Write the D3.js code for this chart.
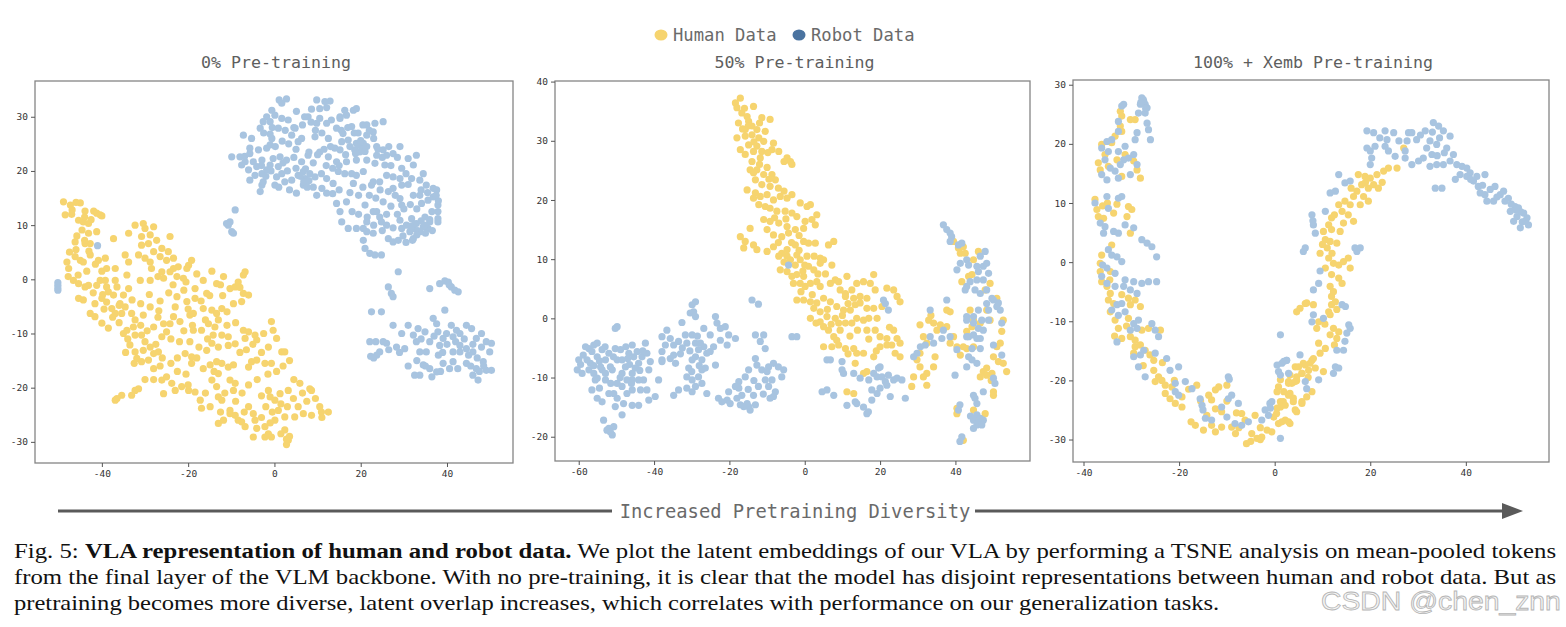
<!DOCTYPE html>
<meta charset="utf-8">
<title>TSNE of human vs robot data</title>
<style>
body { margin: 0; background: #fff; }
svg { display: block; }
.tick text { font-family: "DejaVu Sans Mono", monospace; font-size: 9.5px; fill: #333; }
.tick line { stroke: #555; }
</style>
<body>
<svg id="fig" width="1566" height="627"></svg>
<script src="https://cdn.jsdelivr.net/npm/d3@7"></script>
<script>

// ---- data (t-SNE coordinates) ----
var p1Human = [
  [-48.9,14.3],[-47.3,13.7],[-46.9,12.8],[-48.5,11.9],[-45.0,14.1],[-43.9,12.6],[-41.9,12.6],[-41.2,12.2],[-40.0,11.7],[-45.4,10.9],
  [-44.3,10.6],[-43.1,10.3],[-44.6,9.1],[-43.1,8.5],[-41.2,8.8],[-46.2,6.9],[-43.9,6.6],[-42.7,6.6],[-48.1,3.2],[-47.7,2.0],
  [-46.2,4.2],[-45.0,3.5],[-44.3,3.2],[-42.7,4.5],[-40.8,3.5],[-39.2,3.9],[-38.9,2.0],[-36.9,2.0],[-37.3,7.5],[-34.6,4.5],
  [-33.8,3.2],[-40.4,11.9],[-46.6,-0.2],[-45.4,-0.8],[-43.9,-1.4],[-43.1,-1.1],[-41.2,-1.1],[-40.4,-0.2],[-39.2,-0.2],[-38.9,-1.4],
  [-36.9,-0.2],[-36.5,-1.4],[-38.5,-2.3],[-37.3,-2.9],[-35.0,-2.9],[-33.8,-1.7],[-34.2,0.8],[-31.1,-0.2],[-28.8,-0.2],[-45.4,-3.5],
  [-44.3,-3.8],[-41.6,-4.5],[-38.9,-4.2],[-37.7,-5.4],[-35.8,-4.5],[-34.6,-5.1],[-42.7,-6.3],[-41.6,-6.9],[-40.0,-8.1],[-36.9,-6.3],
  [-35.4,-6.3],[-33.1,-6.3],[-32.3,-7.5],[-30.4,-6.6],[-28.8,-5.1],[-32.7,-8.8],[-34.2,-9.4],[-32.3,-10.3],[-30.8,-10.3],[-33.5,-12.1],
  [-32.3,-13.4],[-30.4,-13.1],[-31.9,-14.6],[-30.8,-15.2],[-29.2,-14.9],[-28.0,-13.7],[-28.0,-16.5],[-28.8,-12.5],[-26.9,-13.4],[-26.1,-10.6],
  [-28.0,-8.8],[-25.0,-9.7],[-32.3,10.0],[-30.4,10.3],[-30.0,9.4],[-28.0,9.7],[-30.8,7.9],[-28.8,8.2],[-27.3,7.2],[-30.8,6.3],
  [-29.2,6.6],[-28.0,5.1],[-26.1,5.7],[-26.5,4.2],[-30.0,3.9],[-28.8,3.2],[-24.2,7.9],[-24.6,5.1],[-23.4,3.9],[-23.4,2.0],
  [-24.2,1.4],[-26.1,1.4],[-25.7,0.2],[-22.3,2.3],[-22.6,0.5],[-21.1,0.2],[-19.2,3.5],[-19.9,2.6],[-20.3,2.0],[-18.4,-1.7],
  [-16.5,-0.2],[-15.7,-2.6],[-13.4,-0.8],[-11.8,0.5],[-10.3,-1.7],[-9.1,-1.4],[-8.4,-0.5],[-7.2,0.8],[-6.8,1.4],[-7.2,-2.6],
  [-6.0,-2.9],[-7.6,-4.1],[-20.3,-4.1],[-18.4,-3.5],[-22.6,-3.2],[-23.0,-5.1],[-23.4,-6.9],[-21.9,-7.8],[-24.2,-8.2],[-25.7,-8.2],
  [-19.6,-6.6],[-18.8,-6.3],[-16.5,-5.4],[-14.5,-5.7],[-13.4,-6.3],[-12.2,-5.4],[-13.0,-7.5],[-13.8,-8.8],[-15.3,-8.2],[-16.9,-9.4],
  [-18.8,-9.4],[-19.6,-11.5],[-20.7,-13.7],[-19.2,-14.3],[-19.2,-15.5],[-15.7,-13.1],[-14.5,-11.8],[-14.2,-10.3],[-12.2,-10.3],[-10.7,-10.6],
  [-10.7,-12.2],[-9.1,-11.9],[-7.2,-9.4],[-6.0,-9.7],[-4.5,-10.3],[-4.1,-11.2],[-6.8,-10.9],[-14.9,-15.8],[-13.4,-15.2],[-12.2,-15.5],
  [-10.7,-16.2],[-9.5,-15.8],[-13.0,-17.4],[-14.5,-18.6],[-13.4,-19.8],[-13.0,-21.7],[-12.2,-22.3],[-10.3,-18.6],[-9.1,-19.2],[-9.5,-20.5],
  [-6.0,-16.2],[-5.3,-15.2],[-4.1,-14.9],[-2.2,-15.5],[-0.7,-15.5],[-1.4,-12.5],[-0.7,-7.8],[-0.3,-9.4],[0.5,-10.9],[1.7,-13.4],
  [2.4,-13.4],[-26.1,-18.6],[-25.0,-18.0],[-23.8,-19.2],[-23.0,-20.5],[-21.5,-19.8],[-19.9,-20.5],[-18.4,-20.8],[-17.2,-22.3],[-16.9,-23.8],
  [-14.9,-23.5],[-25.7,-21.1],[-32.3,-20.5],[-31.5,-20.2],[-33.1,-21.4],[-35.4,-21.4],[-36.5,-22.0],[-36.9,-22.3],[-13.0,-26.6],[-11.8,-26.0],
  [-10.3,-24.8],[-9.1,-25.1],[-8.4,-26.0],[-7.6,-26.3],[-6.8,-27.2],[-10.3,-24.2],[-6.0,-23.5],[-4.9,-24.8],[-4.5,-26.0],[-4.1,-27.5],
  [-2.2,-27.2],[-1.4,-28.5],[-0.7,-29.1],[-2.2,-29.1],[-4.9,-29.1],[-1.4,-20.5],[-1.0,-21.7],[0.1,-22.3],[1.3,-21.1],[3.2,-20.5],
  [4.4,-22.0],[5.5,-23.5],[6.7,-24.8],[4.7,-25.4],[2.4,-25.4],[0.9,-24.2],[0.1,-26.0],[2.4,-27.8],[3.2,-29.7],[8.6,-25.1],
  [10.5,-23.5],[10.9,-24.5],[12.5,-24.5],[8.6,-20.5],[8.2,-20.2],[5.9,-19.2],
  [-47.0,12.0],[-46.0,14.2],[-44.0,11.5],[-42.5,11.0],[-45.8,8.0],[-44.0,7.2],[-47.5,5.0],[-46.0,5.5],[-43.0,5.2],[-41.5,2.8],
  [-40.0,1.5],[-43.5,1.5],[-45.5,0.8],[-47.8,0.5],[-42.0,-2.5],[-40.0,-3.5],[-39.5,-5.5],[-37.5,-7.0],[-38.5,-9.0],[-36.0,-8.0],
  [-35.0,-10.0],[-34.0,-11.0],[-31.0,-8.5],[-30.0,-11.5],[-29.5,-9.5],[-27.0,-7.0],[-26.5,-4.0],[-24.5,-2.5],[-23.5,-1.0],[-21.0,-2.0],
  [-20.0,-5.5],[-17.0,-4.0],[-16.0,-7.5],[-15.0,-3.0],[-12.0,-3.0],[-11.0,-6.0],[-9.5,-4.5],[-9.0,-8.0],[-11.0,-8.5],[-13.0,-12.5],
  [-15.5,-11.0],[-17.5,-12.5],[-18.0,-14.5],[-16.5,-16.5],[-22.0,-11.5],[-24.0,-11.0],[-26.5,-16.0],[-24.0,-15.5],[-22.5,-17.0],[-20.5,-17.5],
  [-28.0,-18.5],[-30.0,-18.5],[-8.0,-13.5],[-6.5,-13.0],[-5.0,-12.0],[-3.0,-13.5],[-2.5,-10.0],[-1.5,-17.5],[0.5,-17.0],[2.0,-16.0],
  [3.5,-15.0],[-4.0,-18.5],[-6.0,-19.5],[-7.5,-21.0],[-9.0,-22.5],[-11.5,-21.0],[-3.0,-21.5],[-2.0,-23.5],[-0.5,-24.5],[1.5,-23.0],
  [3.0,-23.5],[4.5,-18.5],[6.5,-21.0],[7.5,-22.5],[9.5,-22.0],[11.0,-25.5],[-1.0,-26.5],[1.5,-28.5],[2.8,-30.5],[3.5,-29.0],
  [-3.0,-25.5],[-7.0,-24.5],[-12.5,-24.5],[-16.0,-21.0],[-14.0,-17.0],[-34.5,-13.5],[-32.5,-15.5],[-33.8,8.5],[-31.5,4.5],[-28.5,2.0],
  [-27.0,0.5],[-25.0,3.5],[-20.5,-0.5],[-18.0,1.0],[-14.5,1.5],[-12.5,-1.0],[-8.0,-1.5],[-19.0,-8.5],[-21.0,-9.5],[-27.5,-12.0],
  [-26.0,-14.5],[-36.0,-4.8],[-39.8,-2.8],[-33.0,-3.8],[-31.0,-4.5],[-29.0,-2.8],[-26.8,-5.8],[-22.5,-14.5],[-20.0,-19.5],[2.8,-29.5]
];

var p1Robot = [
  [1.1,33.1],[2.8,33.3],[1.7,32.5],[9.8,33.1],[11.7,32.8],[12.9,32.9],[-0.6,31.2],[5.1,31.0],[8.6,31.4],[10.5,31.5],
  [12.1,31.7],[16.3,31.2],[18.3,31.2],[16.7,30.3],[15.2,30.0],[19.0,31.5],[-1.8,30.0],[0.1,30.3],[1.7,29.7],[3.2,29.4],
  [7.8,30.0],[10.5,29.7],[13.2,29.4],[15.2,29.7],[9.8,28.8],[12.1,28.8],[-2.6,29.1],[-1.0,29.1],[-3.3,27.9],[0.9,27.9],
  [4.8,27.9],[14.4,27.9],[17.9,28.2],[21.4,28.5],[23.3,28.8],[25.2,29.1],[19.4,27.0],[21.4,26.6],[22.9,27.2],[6.3,26.0],
  [-7.2,26.6],[-5.3,26.0],[-0.6,26.0],[4.0,26.6],[5.5,25.4],[9.4,26.3],[15.9,26.9],[17.1,25.7],[19.0,25.1],[20.6,25.1],
  [23.7,24.5],[21.4,24.5],[15.6,25.4],[-5.7,24.2],[-3.7,23.9],[-1.8,24.2],[-1.0,24.8],[14.0,24.2],[15.2,23.9],[18.6,23.9],
  [19.8,23.5],[26.0,22.9],[27.5,23.2],[29.1,24.5],[23.7,22.9],[25.2,23.9],[10.5,23.5],[-9.9,22.6],[-8.0,22.6],[-6.8,21.7],
  [-4.9,21.7],[-2.9,22.0],[-0.3,22.3],[1.3,22.6],[2.8,22.0],[6.3,21.7],[7.8,22.9],[12.5,22.6],[14.4,21.7],[16.7,21.7],
  [19.0,22.0],[21.4,22.0],[23.3,21.4],[25.6,21.1],[31.0,22.3],[32.2,21.1],[32.9,22.9],[-7.6,21.1],[-4.1,20.8],[-1.0,21.1],
  [0.9,20.8],[-6.0,20.2],[-4.5,19.2],[-2.9,19.5],[-1.8,20.2],[0.5,18.9],[1.7,19.5],[4.0,18.3],[5.5,19.2],[6.7,19.9],
  [7.1,18.6],[8.2,19.5],[9.4,18.9],[10.9,19.5],[12.1,18.6],[13.6,17.7],[14.8,19.9],[16.3,19.5],[17.9,19.5],[19.0,19.2],
  [20.6,19.9],[22.9,18.0],[24.4,18.0],[26.0,19.2],[27.5,18.9],[29.1,18.6],[29.5,17.4],[31.8,18.6],[33.7,18.3],[34.5,19.5],
  [35.2,17.4],[36.8,16.8],[37.6,16.5],[-5.7,18.3],[-2.9,17.4],[-2.6,18.0],[0.1,17.4],[2.4,18.0],[-3.3,16.2],[5.1,15.9],
  [6.7,17.4],[9.8,15.5],[12.1,15.9],[14.4,14.0],[15.2,12.5],[16.7,14.3],[18.3,17.7],[21.0,13.7],[22.5,17.4],[23.7,12.5],
  [25.2,14.3],[26.4,16.2],[27.5,16.8],[29.1,14.9],[29.5,13.7],[32.2,15.5],[33.7,15.5],[34.1,14.0],[35.6,14.6],[36.8,15.2],
  [37.9,13.7],[37.9,12.5],[15.6,10.6],[17.1,9.4],[19.0,9.4],[20.6,9.4],[21.4,10.6],[22.9,12.5],[24.4,11.5],[24.8,10.6],
  [26.4,7.5],[27.5,6.9],[28.7,7.2],[29.1,10.9],[30.6,10.0],[31.8,11.2],[32.2,9.4],[32.9,10.3],[33.7,8.8],[34.5,9.7],
  [35.6,9.4],[36.0,10.6],[37.9,11.2],[37.9,10.6],[34.9,11.5],[20.6,7.2],[21.0,5.7],[22.1,4.8],[23.3,4.5],[24.8,4.5],
  [21.4,8.8],[22.9,8.5],[32.2,7.5],[31.4,8.8],[29.5,9.4],[26.0,10.0],
  [19.5,24.8],[20.2,24.0],[18.8,23.2],[21.0,23.6],[20.0,25.6],[32.5,10.2],[33.2,9.0],[34.0,10.8],[31.6,9.8],[33.0,8.2],
  [35.0,8.5],[34.8,10.0],[32.0,7.2],[36.6,9.0],[6.0,19.0],[7.2,20.4],[6.8,18.0],[8.0,18.2],[5.0,20.5],[7.6,17.0],
  [-6.9,22.7],[-5.7,23.2],[-3.0,21.0],[-2.0,19.0],[-0.8,20.0],[1.0,17.0],[3.5,16.5],[3.0,20.0],[2.0,21.5],[4.5,22.5],
  [5.0,24.0],[3.3,25.0],[1.8,25.5],[0.2,24.5],[-1.0,26.8],[-2.5,27.0],[-0.5,28.0],[2.5,27.5],[4.5,28.0],[6.5,28.5],
  [7.0,30.0],[8.5,29.0],[9.5,27.5],[11.0,27.0],[12.5,26.0],[13.0,24.5],[11.5,24.0],[10.0,23.0],[9.0,21.5],[8.0,23.5],
  [12.0,21.0],[13.5,20.5],[15.0,21.0],[16.5,23.0],[17.5,24.5],[15.5,27.5],[17.0,28.0],[18.5,27.0],[20.5,28.5],[22.0,27.5],
  [23.0,26.0],[24.0,24.0],[26.5,24.5],[25.0,22.5],[27.0,21.0],[28.5,22.5],[29.5,20.5],[30.5,19.5],[31.0,17.5],[28.0,15.5],
  [27.0,13.5],[26.0,12.0],[28.5,12.0],[30.0,13.0],[31.5,13.8],[33.0,13.0],[34.0,16.5],[35.5,16.0],[36.5,12.5],[36.0,11.0],
  [38.0,14.5],[37.5,15.5],[19.5,15.5],[17.5,16.0],[15.0,16.5],[13.5,15.8],[11.0,16.8],[9.0,17.0],[20.5,17.0],[22.0,15.5],
  [23.5,15.0],[24.5,16.5],[18.0,12.5],[19.5,12.0],[21.5,11.5],[23.0,10.0],[25.0,9.0],[27.5,9.5],[29.8,8.0],[30.5,6.8],
  [-9.1,12.8],[-11.1,10.3],[-10.3,10.6],[-9.9,8.8],[-10.7,10.0],[-9.5,8.5],
  [-41.0,6.2],[-50.2,-0.6],[-50.2,-1.1],[-50.2,-1.6],[-50.2,-2.0],
  [28.7,1.4],[26.4,-1.4],[27.1,-2.6],[27.5,-3.2],[22.5,-6.0],[24.8,-6.0],[36.0,-1.7],[38.3,-0.8],[40.3,-0.5],[41.0,-1.4],
  [41.8,-2.0],[42.6,-2.3],[39.5,-0.3],[40.5,-1.0],[39.5,-5.7],[27.5,-8.5],[29.5,-10.0],[31.0,-8.5],[32.2,-10.3],[33.3,-9.1],
  [34.9,-9.7],[36.8,-7.2],[37.6,-8.2],[37.9,-9.7],[39.1,-10.9],[39.9,-10.0],[41.4,-10.6],[42.2,-9.4],[43.0,-12.2],[44.5,-8.5],
  [45.7,-9.1],[46.8,-10.9],[48.0,-10.0],[49.1,-11.5],[50.3,-11.8],[49.9,-13.4],[48.4,-15.2],[49.1,-16.8],[50.3,-16.8],[46.8,-16.5],
  [46.0,-17.7],[47.2,-18.6],[44.5,-15.5],[43.0,-13.4],[41.4,-15.2],[40.6,-16.5],[39.1,-15.5],[37.6,-17.1],[36.0,-16.5],[34.5,-15.8],
  [33.7,-17.7],[32.5,-17.7],[35.2,-13.4],[33.7,-13.4],[32.9,-11.5],[30.2,-12.8],[36.0,-11.5],[38.3,-12.2],[41.4,-13.4],[44.5,-12.8],
  [46.0,-13.4],[22.1,-11.5],[23.7,-14.0],[24.4,-13.4],[26.0,-11.8],[28.3,-12.5],[25.2,-11.5],[22.3,-14.2],[23.0,-14.5],
  [33.0,-15.0],[35.0,-16.0],[38.0,-14.0],[40.0,-12.0],[42.0,-11.5],[44.0,-11.0],[45.0,-14.0],[47.0,-14.5],[48.0,-12.5],[39.0,-13.5],
  [31.0,-16.0],[34.0,-11.0],[37.0,-10.5],[29.0,-13.5],[26.5,-13.0],[23.5,-11.5],[41.0,-8.5],[43.0,-10.0],[46.0,-12.0],[48.5,-16.0],
  [47.5,-17.0],[45.5,-16.0],[42.5,-16.5],[38.5,-17.0],[36.5,-18.0]
];

var p2Human = [
  [-17.1,37.2],[-18.4,36.4],[-18.0,35.6],[-13.6,35.8],[-16.7,34.7],[-15.3,34.1],[-17.6,33.0],[-14.9,33.3],[-11.4,33.9],[-9.2,33.6],
  [-14.0,32.5],[-15.8,31.9],[-12.7,31.9],[-10.5,31.6],[-18.0,30.5],[-15.8,30.8],[-14.0,31.0],[-12.2,30.5],[-10.9,29.9],[-8.3,29.6],
  [-14.9,29.3],[-12.7,29.1],[-17.1,28.5],[-15.8,27.7],[-13.6,28.2],[-11.4,28.2],[-8.7,28.5],[-6.9,28.2],[-4.7,27.1],[-3.8,26.5],
  [-3.4,26.0],[-14.0,26.5],[-11.8,27.1],[-14.5,25.1],[-12.7,25.1],[-13.6,24.6],[-10.9,24.3],[-8.7,24.3],[-7.8,23.4],[-13.1,23.4],
  [-11.4,22.6],[-9.2,22.3],[-15.3,21.7],[-13.1,21.2],[-13.6,20.3],[-11.8,20.6],[-10.0,20.9],[-8.3,20.0],[-6.5,20.6],[-4.7,20.3],
  [-3.4,20.9],[-1.2,19.5],[0.6,18.9],[1.5,19.2],[-12.2,19.2],[-10.5,18.9],[-9.2,18.6],[-7.4,18.1],[-5.2,18.1],[-3.4,17.8],
  [-2.1,17.2],[3.2,17.5],[1.9,16.7],[2.8,15.8],[-10.9,16.7],[-9.2,16.4],[-6.9,16.1],[-4.7,15.5],[-2.5,15.0],[-0.3,15.2],
  [0.1,16.4],[-10.0,15.0],[-8.3,14.1],[-6.1,13.8],[-4.3,14.4],[-14.5,15.2],[-17.1,13.8],[-15.8,13.0],[-16.2,11.9],[-13.6,12.4],
  [-12.7,11.6],[-10.0,11.3],[-8.3,12.1],[-6.1,11.0],[-4.7,11.6],[-2.5,12.4],[-0.3,13.0],[1.0,12.7],[2.8,12.7],[6.3,12.4],
  [7.7,13.0],[-6.9,10.5],[-4.7,10.5],[-3.8,9.9],[-2.1,10.7],[-1.2,9.9],[0.6,10.5],[4.1,10.2],[7.2,9.0],[-6.5,8.2],
  [-4.7,7.9],[-3.4,7.1],[-2.1,7.4],[-0.3,7.1],[1.0,8.8],[2.4,8.2],[4.1,9.3],[5.0,9.9],[-3.0,5.9],[-1.2,5.9],
  [0.1,5.4],[1.5,5.9],[3.2,6.2],[4.1,5.4],[6.8,5.9],[9.0,6.2],[11.2,7.1],[-2.1,3.1],[-0.3,3.1],[1.5,2.8],
  [3.2,2.6],[5.0,3.4],[6.8,2.8],[2.4,1.7],[4.1,1.1],[1.5,0.0],[4.1,-0.6],[5.9,0.3],[8.1,0.0],[9.0,-0.8],
  [8.1,6.5],[9.4,4.8],[10.8,4.2],[12.5,4.8],[13.8,5.9],[15.6,6.2],[17.4,5.9],[18.3,7.4],[18.7,4.8],[21.8,5.1],
  [23.6,4.8],[24.5,3.7],[25.3,2.8],[10.8,3.7],[13.0,3.4],[14.7,3.7],[16.5,3.4],[8.5,2.0],[10.3,1.4],[12.1,1.4],
  [13.4,2.3],[14.7,2.6],[16.5,1.7],[18.3,1.7],[19.2,0.0],[5.0,-1.4],[6.3,-2.0],[7.7,-3.1],[8.5,-3.7],[9.4,-2.0],
  [10.8,-0.8],[12.5,-0.8],[13.8,0.0],[15.6,-0.3],[16.5,-2.0],[18.7,-2.0],[20.0,-3.1],[21.8,-3.4],[23.6,-2.0],[24.5,-3.4],
  [25.3,-4.2],[5.0,-4.8],[7.2,-4.8],[9.0,-4.5],[10.8,-5.1],[13.0,-5.1],[13.8,-5.9],[15.6,-5.9],[18.3,-6.5],[20.0,-4.8],
  [21.8,-4.5],[23.1,-4.5],[24.0,-5.9],[25.3,-6.5],[13.4,-7.6],[16.5,-9.0],[15.6,-9.3],[11.2,-12.4],[13.0,-12.7],
  [-16.0,35.5],[-15.0,32.5],[-12.0,33.0],[-16.5,32.0],[-13.5,29.8],[-9.8,28.0],[-5.5,26.5],[-12.0,26.0],[-10.0,25.5],[-9.5,23.5],
  [-7.0,22.0],[-5.5,21.5],[-8.0,17.0],[-5.0,16.8],[-1.5,14.0],[-7.0,12.8],[-3.5,12.8],[-1.5,11.5],[0.0,9.0],[-5.5,9.5],
  [2.5,10.5],[3.5,7.5],[-1.0,4.5],[2.0,4.0],[5.5,7.5],[6.0,1.5],[3.0,-0.8],[7.0,-1.0],[10.0,0.5],[11.5,2.5],
  [14.0,-2.0],[12.0,-3.0],[17.0,-3.5],[19.0,-5.5],[11.5,-6.0],[22.5,-1.5],[20.5,2.0],[17.0,0.0],[-2.5,9.0],[-0.5,8.0],
  [39.5,13.0],[40.8,11.9],[42.1,12.1],[41.3,11.0],[42.6,11.0],[46.1,11.3],[44.8,9.9],[44.4,7.4],[41.7,6.2],[43.5,7.1],
  [49.2,5.9],[47.9,4.8],[51.0,3.4],[48.3,1.4],[43.9,1.4],[44.8,-0.3],[46.6,-0.8],[49.2,-0.3],[52.7,-0.3],[52.3,-2.2],
  [51.9,-4.2],[51.0,-4.8],[50.1,-6.5],[51.4,-7.3],[52.7,-7.6],[53.6,-9.0],[48.3,-8.4],[47.4,-9.0],[46.6,-9.9],[49.7,-9.3],
  [48.3,-9.6],[44.4,-1.4],[43.0,-2.2],[42.1,-4.8],[43.0,-5.1],[44.8,-4.8],[41.3,-6.2],[39.5,-3.1],[40.4,-4.8],[38.6,-4.2],
  [37.7,-1.4],[36.0,-1.1],[35.1,-2.0],[34.2,-0.8],[32.9,-0.3],[30.6,-1.1],[31.5,-3.1],[32.4,-4.2],[30.6,-5.9],[29.8,-7.0],
  [30.6,-8.2],[32.4,-9.3],[31.5,-9.9],[28.9,-9.9],[28.4,-11.5],[32.4,-11.3],[34.2,-8.2],[34.6,-6.5],[37.7,1.4],[38.6,1.1],
  [50.1,-12.4],[50.1,-13.0],[44.8,-15.5],[47.9,-16.1],[40.4,-16.1],[40.4,-15.2],[42.1,-20.6],[33.5,0.5],[49.5,-10.5],[45.5,-16.8]
];

var p2Robot = [
  [-60.0,-7.0],[-60.4,-8.7],[-59.1,-9.3],[-58.2,-4.8],[-57.3,-5.1],[-56.5,-5.6],[-56.0,-4.5],[-55.1,-4.2],[-55.1,-6.5],[-56.9,-7.6],
  [-57.3,-8.7],[-56.0,-9.3],[-55.1,-10.1],[-53.8,-5.3],[-52.9,-7.0],[-52.0,-5.9],[-51.6,-8.2],[-53.8,-8.7],[-52.9,-9.3],[-51.1,-8.7],
  [-50.3,-5.1],[-48.9,-5.3],[-49.8,-7.0],[-48.5,-7.0],[-47.6,-8.2],[-46.7,-5.9],[-45.8,-4.5],[-45.4,-6.5],[-44.5,-5.6],[-44.1,-7.6],
  [-45.0,-8.4],[-43.2,-6.5],[-42.3,-4.2],[-41.9,-5.9],[-41.0,-7.3],[-41.4,-8.7],[-42.8,-10.4],[-44.1,-10.4],[-45.8,-10.4],[-47.2,-10.4],
  [-48.5,-11.5],[-49.8,-11.0],[-50.7,-12.7],[-52.0,-12.7],[-53.8,-14.1],[-55.1,-13.5],[-56.5,-12.1],[-49.8,-13.5],[-48.1,-14.4],[-45.8,-14.7],
  [-44.1,-14.7],[-41.4,-13.8],[-39.7,-13.2],[-41.9,-12.1],[-43.6,-12.1],[-45.8,-12.1],[-47.2,-12.7],[-50.3,-14.9],[-48.5,-16.3],[-53.4,-17.2],
  [-52.0,-18.6],[-50.7,-18.3],[-51.1,-19.7],[-49.8,-1.4],[-38.8,-10.4],[-37.9,-7.0],[-55.6,-10.4],[-52.9,-10.4],[-54.2,-8.2],[-48.5,-9.3],
  [-45.8,-9.3],[-50.3,-1.7],[-52.5,-18.9],[-51.6,-19.2],[-58.8,-6.2],[-57.8,-7.0],[-54.5,-7.2],[-50.8,-6.5],[-47.0,-6.8],[-43.8,-8.8],
  [-46.5,-7.8],[-49.0,-10.0],[-51.5,-11.0],[-54.5,-11.8],[-47.5,-4.8],[-53.0,-4.8],[-59.5,-7.8],[-56.0,-8.0],[-43.0,-5.5],[-46.0,-11.0],
  [-29.0,2.8],[-29.9,2.3],[-30.4,0.9],[-29.0,0.3],[-29.5,1.1],[-32.6,-0.7],[-36.6,-2.0],[-37.9,-3.1],[-35.7,-3.4],[-37.0,-4.5],
  [-34.8,-4.5],[-33.5,-3.9],[-34.8,-6.2],[-35.7,-6.8],[-34.3,-7.6],[-37.9,-5.6],[-37.9,-7.3],[-31.7,-2.8],[-31.3,-4.2],[-29.9,-2.8],
  [-29.0,-4.2],[-27.7,-4.2],[-26.8,-4.8],[-28.2,-5.3],[-29.0,-6.5],[-29.9,-7.0],[-27.3,-7.0],[-26.0,-5.9],[-25.1,-5.6],[-24.2,-4.8],
  [-26.8,-1.7],[-25.1,-2.8],[-23.7,0.3],[-23.3,-0.8],[-22.4,-1.7],[-21.1,-1.4],[-20.2,-2.8],[-18.4,-3.4],[-22.4,-3.7],[-20.6,-4.5],
  [-23.7,-7.9],[-26.4,-8.4],[-27.3,-8.7],[-30.8,-8.4],[-31.3,-9.9],[-29.9,-10.4],[-28.2,-9.9],[-27.3,-11.0],[-29.0,-11.5],[-31.3,-11.8],
  [-33.5,-12.1],[-34.8,-13.0],[-29.9,-12.4],[-26.0,-12.7],[-30.5,-5.5],[-28.5,-3.0],[-32.5,-5.0],[-28.0,-8.0],[-30.0,-9.0],[-33.0,-6.0],
  [-14.0,3.1],[-12.3,2.4],[-13.1,-2.8],[-10.9,-2.8],[-11.8,-3.9],[-10.5,-5.1],
  [-13.1,-6.8],[-12.7,-7.9],[-14.9,-8.7],[-15.8,-9.9],[-17.5,-10.7],[-18.4,-11.5],[-20.2,-12.4],[-20.6,-13.8],[-19.8,-14.4],[-18.0,-13.5],
  [-16.7,-13.0],[-16.2,-14.9],[-15.3,-14.4],[-14.5,-15.5],[-13.1,-14.6],[-13.6,-13.0],[-12.3,-11.5],[-10.5,-10.4],[-9.6,-11.5],[-8.7,-10.4],
  [-7.8,-12.4],[-8.3,-13.2],[-9.2,-13.5],[-11.4,-8.7],[-9.6,-8.2],[-8.3,-7.6],[-7.0,-8.2],[-5.6,-8.7],[-6.1,-9.9],[-10.0,-9.0],
  [-17.5,-11.8],[-22.9,-13.5],[-22.0,-14.1],[-17.1,-14.6],[-14.9,-14.9],[-3.4,-3.1],[-2.1,-3.1],[-15.0,-12.0],[-11.0,-12.8],[-13.5,-10.5],
  [-4.3,9.0],[5.9,-7.0],[6.8,-7.0],[9.9,-7.3],[10.3,-9.3],[9.9,-8.7],[4.6,-12.4],[5.9,-12.1],[7.7,-13.0],[11.2,-14.7],
  [13.4,-14.1],[13.8,-14.4],[15.6,-15.0],[16.5,-16.1],[16.9,-15.8],[13.0,-9.3],[14.7,-10.1],[17.0,-10.4],[18.3,-9.3],[19.2,-9.9],
  [19.6,-8.4],[20.5,-9.9],[21.4,-10.7],[22.2,-9.6],[23.6,-10.4],[24.5,-10.1],[25.8,-10.4],[17.8,-12.1],[19.2,-12.7],[20.0,-11.8],
  [21.8,-11.3],[22.7,-13.2],[17.8,-13.8],[20.0,-8.2],[20.9,3.1],[22.2,1.4],[21.4,2.5],[26.7,-13.5],[28.9,-6.5],[29.8,-5.9],
  [30.7,-4.8],[32.0,-4.5],[33.3,-3.1],[34.2,-4.2],[33.3,1.4],[36.4,-3.4],[36.8,-2.0],[38.6,-3.1],[37.7,3.1],[43.0,0.3],
  [44.8,-0.8],[46.1,-1.7],[40.4,-5.3],[39.9,-9.6],[43.0,-3.1],[43.5,-6.5],[44.4,-7.0],[43.0,-8.2],[45.7,-7.6],[46.6,-5.1],
  [46.6,-3.4],[47.4,-2.0],[48.8,-0.3],[51.0,2.0],[51.9,1.4],[51.4,2.6],[50.1,3.1],[50.1,-4.5],[52.3,-6.2],[52.3,-0.8],
  [50.5,-11.0],[50.1,-10.1],[47.4,-12.4],[45.2,-13.5],[45.7,-14.4],
  [36.8,15.8],[37.7,15.0],[38.6,14.4],[39.0,13.8],[38.6,13.0],[40.8,12.4],[41.7,12.7],[43.0,9.9],[43.5,9.0],[40.4,8.2],
  [41.3,9.3],[45.7,8.8],[46.1,7.9],[47.4,8.8],[46.6,10.5],[47.9,11.3],[48.3,9.3],[48.8,7.6],[47.4,6.5],[45.7,6.5],
  [43.9,6.2],[43.0,5.4],[42.6,4.8],[45.2,4.8],[46.6,4.2],[48.3,4.8],[49.7,3.4],[48.3,2.5],[48.8,1.4],[46.1,1.4],
  [47.0,-0.3],[44.8,0.3],[43.0,-0.3],[43.5,-3.1],[44.8,-2.8],[45.7,-3.4],[44.4,-5.1],
  [41.2,-14.6],[40.8,-15.5],[44.8,-13.0],[45.7,-16.3],[44.8,-17.2],[46.6,-16.9],[47.4,-17.2],[45.7,-18.0],[44.8,-18.6],[41.7,-20.0],
  [41.2,-20.8],[46.0,-17.6],[47.0,-18.0],[44.0,-16.5]
];

var p3Human = [
  [-32.3,25.5],[-32.0,24.7],[-30.2,24.1],[-29.2,24.1],[-32.3,23.0],[-32.0,22.1],[-33.4,21.3],[-34.1,20.2],[-36.2,19.9],[-35.5,18.2],
  [-33.0,17.3],[-36.9,16.8],[-36.5,15.6],[-34.8,16.2],[-31.3,18.2],[-29.5,17.1],[-28.8,15.6],[-28.1,14.2],[-32.0,14.5],[-30.6,9.4],
  [-29.9,8.9],[-37.6,10.6],[-37.2,8.9],[-36.9,7.7],[-35.8,7.4],[-33.7,8.3],[-30.9,7.7],[-30.2,4.9],[-34.1,2.9],[-36.2,1.2],
  [-36.5,-0.2],[-36.5,-1.6],[-34.4,-1.6],[-36.2,-3.3],[-35.1,-4.1],[-34.4,-5.3],[-34.8,-6.4],[-33.7,-7.0],[-30.6,-6.1],[-29.2,-6.4],
  [-28.1,-7.5],[-30.2,-7.2],[-34.4,-8.4],[-33.4,-9.8],[-32.7,-11.2],[-32.0,-12.9],[-30.6,-9.5],[-30.2,-12.6],[-29.2,-13.2],[-27.8,-11.5],
  [-26.4,-11.2],[-23.9,-11.5],[-29.2,-14.3],[-28.1,-14.0],[-27.1,-14.9],[-29.5,-15.4],[-26.1,-15.7],[-25.3,-16.6],[-25.3,-18.3],[-24.3,-19.4],
  [-23.6,-20.0],[-22.9,-20.8],[-25.0,-20.2],[-22.9,-22.2],[-21.5,-21.1],[-21.9,-23.1],[-20.8,-23.9],[-19.4,-24.5],[-19.4,-22.8],[-16.3,-20.8],
  [-13.8,-22.5],[-12.4,-21.6],[-11.7,-21.1],[-10.0,-20.8],[-13.2,-23.3],[-12.4,-24.8],[-11.1,-25.3],[-14.2,-25.9],[-13.2,-27.6],[-11.1,-27.9],
  [-16.6,-27.6],[-14.9,-28.4],[-12.4,-28.7],[-9.0,-27.9],[-6.9,-25.6],[-6.2,-26.7],[-4.1,-25.9],[-4.8,-29.0],[-3.7,-29.8],[-2.7,-29.6],
  [-1.6,-28.4],[-0.6,-28.7],[0.8,-27.3],[2.2,-26.7],[3.2,-27.3],[0.4,-25.6],[1.2,-24.5],[1.8,-23.6],[2.9,-22.5],[3.9,-23.6],
  [4.3,-25.0],[5.7,-23.9],[6.7,-22.8],[7.8,-21.9],[3.6,-20.5],[4.6,-20.0],[5.7,-18.8],[6.4,-17.4],[7.8,-16.6],[7.1,-18.3],
  [4.3,-17.7],[2.9,-20.2],[0.8,-21.1],[4.6,-8.4],[6.4,-7.0],[-5.9,-30.7],[-5.0,-30.3],[-3.0,-30.0],[-7.5,-28.0],[-8.2,-29.0],
  [-36.0,9.5],[-35.0,10.0],[-33.0,9.8],[-34.5,-3.0],[-32.0,-5.5],[-31.0,-10.8],[-33.5,-12.5],[-27.5,-17.5],[-23.5,-17.0],[-21.0,-20.0],
  [-18.0,-21.5],[-15.5,-23.5],[-17.5,-27.0],[-10.0,-23.5],[-8.0,-25.5],[-3.0,-28.0],
  [27.0,19.3],[17.5,14.8],[18.9,14.5],[20.0,14.2],[21.4,14.8],[22.8,15.4],[23.8,15.9],[25.6,15.9],[20.7,13.1],[21.7,12.5],
  [19.6,12.5],[18.2,13.1],[17.2,12.0],[16.5,11.1],[18.6,11.1],[19.6,10.3],[17.9,9.7],[15.8,9.7],[14.7,10.3],[13.4,9.7],
  [14.1,8.6],[15.4,8.0],[16.5,6.9],[14.4,6.6],[11.9,7.5],[11.3,6.3],[10.2,5.2],[11.9,5.5],[13.7,5.2],[10.6,3.8],
  [11.6,3.5],[13.0,3.2],[11.0,2.4],[9.5,1.5],[11.3,0.7],[12.3,-0.2],[13.4,-0.5],[14.4,0.1],[15.4,0.7],[15.8,-1.0],
  [10.6,-1.0],[11.9,-2.1],[13.4,-2.7],[14.1,-3.6],[11.6,-4.1],[12.3,-5.0],[11.9,-5.8],[11.9,-7.2],[12.7,-6.7],[11.3,-8.4],
  [11.6,-8.9],[5.3,-7.8],[6.7,-6.9],[8.1,-7.2],[9.2,-10.1],[8.8,-11.2],[12.3,-11.2],[13.4,-11.8],[13.0,-12.9],[11.6,-12.3],
  [9.2,-13.7],[10.6,-14.6],[9.5,-15.4],[8.1,-16.3],[7.4,-17.1],[6.0,-17.1],[5.0,-17.7],[5.7,-18.8],[4.6,-19.4],[3.2,-19.1],
  [4.3,-20.2],[2.9,-20.5],[1.2,-19.9],[0.5,-21.9],[1.9,-21.9],[3.2,-22.2],[3.9,-23.0],[5.7,-23.6],[1.2,-23.6],[2.2,-24.2],
  [0.5,-24.7],[-0.2,-26.2],[1.5,-27.0],[2.9,-27.0],[4.6,-25.3],[8.5,-17.9],[10.2,-18.5],
  [19.0,13.5],[22.5,13.5],[16.0,12.5],[12.5,8.0],[10.0,3.0],[12.0,1.5],[13.0,-8.0],[10.5,-10.5],[12.5,-14.0],[7.0,-19.5]
];

var p3Robot = [
  [-27.8,27.8],[-27.4,27.2],[-28.1,26.7],[-27.1,26.7],[-26.7,26.1],[-28.5,25.2],[-27.1,25.2],[-26.7,23.5],[-26.4,22.4],[-26.0,20.7],
  [-31.6,26.7],[-32.0,26.4],[-28.8,21.9],[-29.2,20.7],[-32.7,23.8],[-32.7,22.1],[-27.5,27.5],[-28.0,27.0],[-27.0,26.0],
  [-35.1,20.4],[-34.1,20.7],[-36.2,19.3],[-34.8,18.7],[-32.7,18.7],[-31.3,19.6],[-31.6,17.3],[-30.6,17.6],[-29.5,18.2],[-28.8,16.5],
  [-32.3,16.5],[-33.4,15.4],[-36.2,14.8],[-35.1,13.9],[-32.7,14.2],[-34.4,15.9],[-35.5,17.3],[-30.2,14.8],
  [-35.1,11.1],[-32.7,10.8],[-32.0,11.1],[-37.6,10.0],[-34.8,9.1],[-36.5,6.6],[-35.5,6.0],[-35.8,4.9],[-33.7,5.2],[-32.7,4.9],
  [-31.3,6.3],[-29.5,5.8],[-27.8,3.8],[-26.7,3.2],[-25.7,2.6],[-24.7,0.9],[-34.8,2.1],[-34.1,1.2],[-33.0,0.9],[-32.0,0.1],
  [-33.4,-1.9],[-35.1,-1.0],[-36.2,-2.4],[-35.1,-3.6],[-33.4,-4.1],[-31.6,-4.1],[-31.3,-3.0],[-29.5,-3.3],[-30.2,-4.7],[-28.8,-5.3],
  [-27.8,-3.6],[-26.4,-3.3],[-24.7,-3.3],[-33.0,-7.2],[-32.0,-7.0],[-34.1,-8.1],[-32.7,-9.0],[-31.3,-8.4],[-29.5,-10.4],[-28.5,-9.8],
  [-28.8,-11.2],[-30.2,-11.5],[-25.7,-10.4],[-25.0,-11.5],[-24.3,-12.6],
  [-29.5,-16.0],[-28.1,-15.7],[-27.4,-14.9],[-28.5,-17.7],[-27.1,-19.4],[-25.0,-15.4],[-22.6,-16.3],[-21.9,-18.3],[-20.1,-17.7],[-20.8,-20.5],
  [-18.7,-20.2],[-17.3,-21.4],[-20.8,-21.9],[-20.1,-22.5],[-15.6,-23.1],[-15.2,-24.2],[-14.5,-26.4],[-13.2,-26.7],[-11.1,-24.5],[-9.7,-23.1],
  [-9.0,-22.5],[-9.7,-19.4],[-7.6,-23.9],[-10.0,-26.2],[-8.3,-27.3],[-6.9,-27.6],[-5.5,-27.0],[-2.7,-26.7],[-2.0,-25.0],[-1.0,-23.9],
  [0.5,-17.4],[1.5,-17.1],[2.5,-16.6],[2.9,-18.8],[1.2,-29.8],[-1.3,-25.9],[-15.0,-25.0],[-9.5,-19.8],[-33.0,-13.5],[-36.0,-0.5],
  [19.3,22.2],[20.7,21.9],[23.1,22.2],[24.9,21.9],[23.5,20.7],[23.1,19.6],[23.8,18.8],[20.0,18.8],[19.3,19.3],[21.0,19.6],
  [20.3,17.6],[20.0,16.5],[25.2,17.9],[27.3,17.6],[28.0,21.9],[28.7,21.9],[27.7,20.5],[29.7,20.7],[31.5,22.2],[33.2,23.6],
  [34.3,23.0],[35.3,22.2],[36.7,21.3],[32.5,20.5],[33.9,19.9],[31.8,19.3],[32.9,18.2],[31.1,17.6],[30.1,17.1],[28.7,16.5],
  [32.5,16.2],[33.9,16.5],[35.3,16.5],[36.7,17.1],[36.0,19.3],[37.4,18.2],[38.1,16.5],[39.2,16.2],[40.2,15.9],[38.8,14.8],
  [40.2,14.5],[40.9,15.1],[41.6,13.7],[42.3,14.5],[44.0,14.8],[42.6,12.8],[43.0,11.7],[44.0,11.4],[45.1,12.3],[46.1,12.8],
  [47.2,11.4],[47.9,12.0],[48.9,10.8],[48.2,10.3],[44.4,10.3],[45.8,10.3],[49.3,8.6],[50.3,9.4],[51.0,9.2],[52.1,8.3],
  [52.8,7.5],[53.1,6.3],[51.4,5.8],[50.0,6.9],[50.7,7.7],[37.8,14.0],[33.6,12.5],[35.0,12.5],[27.3,18.8],
  [22.0,21.0],[26.0,20.5],[30.5,21.5],[34.5,21.0],[33.0,22.0],[34.0,18.0],[35.5,18.5],[41.0,14.0],[43.5,13.0],[46.5,11.0],
  [49.5,9.8],[51.5,8.5],[52.5,7.0],[50.5,8.8],[51.8,6.8],
  [13.4,14.8],[14.7,13.4],[15.8,13.7],[11.6,11.7],[12.7,12.0],[10.6,8.6],[7.8,8.0],[8.1,6.3],[8.5,4.9],[6.4,2.4],
  [6.0,1.8],[16.8,2.4],[17.2,1.8],[17.9,2.4],[9.2,-3.6],[8.1,-4.7],[14.1,-7.2],[14.8,-7.5],[8.1,-8.9],[7.8,-10.1],
  [10.2,-9.5],[15.5,-10.6],[15.8,-11.2],[15.1,-12.0],[14.7,-13.4],[13.0,-14.9],[14.4,-14.9],[1.2,-12.3],[1.9,-16.8],[2.5,-16.6],
  [0.8,-18.5],[1.2,-19.1],[6.7,-21.4],[6.4,-20.2],[9.2,-19.9],[12.7,-17.7],[13.4,-17.9],[12.3,-18.8],[5.3,-15.7],[-0.6,-23.6],
  [-0.9,-24.7],[9.5,-1.5],[8.0,7.0]
];

var legendLabels = ["Human Data", "Robot Data"];
var panelTitles = ["0% Pre-training", "50% Pre-training", "100% + Xemb Pre-training"];
var xTickSets = [[-40, -20, 0, 20, 40], [-60, -40, -20, 0, 20, 40], [-40, -20, 0, 20, 40]];
var yTickSets = [[-30, -20, -10, 0, 10, 20, 30], [-20, -10, 0, 10, 20, 30, 40], [-30, -20, -10, 0, 10, 20, 30]];
var arrowLabel = "Increased Pretraining Diversity";
var captionLines = [
  [{t: "Fig. 5: ", b: false}, {t: "VLA representation of human and robot data.", b: true},
   {t: " We plot the latent embeddings of our VLA by performing a TSNE analysis on mean-pooled tokens", b: false}],
  [{t: "from the final layer of the VLM backbone. With no pre-training, it is clear that the model has disjoint representations between human and robot data. But as", b: false}],
  [{t: "pretraining becomes more diverse, latent overlap increases, which correlates with performance on our generalization tasks.", b: false}]
];
var watermark = "CSDN @chen_znn";

// ---- layout ----
var HUMAN = "#f6d46f", ROBOT = "#a8c4e0", ROBOT_KEY = "#4a73a0";
var panels = [
  {title: panelTitles[0], human: p1Human, robot: p1Robot, xDom: [-55.5, 55.3], yDom: [-33.9, 36.6],
   xTicks: xTickSets[0], yTicks: yTickSets[0], box: [35, 81, 513, 463]},
  {title: panelTitles[1], human: p2Human, robot: p2Robot, xDom: [-66.3, 59.8], yDom: [-24.1, 40.1],
   xTicks: xTickSets[1], yTicks: yTickSets[1], box: [555, 81, 1030, 461]},
  {title: panelTitles[2], human: p3Human, robot: p3Robot, xDom: [-42.2, 57.4], yDom: [-33.8, 30.8],
   xTicks: xTickSets[2], yTicks: yTickSets[2], box: [1073, 80, 1549, 462]}
];

var svg = d3.select("#fig");
var mono = "'DejaVu Sans Mono', monospace";

panels.forEach(function(p) {
  var x = d3.scaleLinear().domain(p.xDom).range([p.box[0], p.box[2]]);
  var y = d3.scaleLinear().domain(p.yDom).range([p.box[3], p.box[1]]);
  var g = svg.append("g");

  g.append("g").selectAll("circle").data(p.human).join("circle")
    .attr("cx", function(d) { return x(d[0]); })
    .attr("cy", function(d) { return y(d[1]); })
    .attr("r", 3.6).attr("fill", HUMAN);
  g.append("g").selectAll("circle").data(p.robot).join("circle")
    .attr("cx", function(d) { return x(d[0]); })
    .attr("cy", function(d) { return y(d[1]); })
    .attr("r", 3.6).attr("fill", ROBOT);

  g.append("rect")
    .attr("x", p.box[0]).attr("y", p.box[1])
    .attr("width", p.box[2] - p.box[0]).attr("height", p.box[3] - p.box[1])
    .attr("fill", "none").attr("stroke", "#858585").attr("stroke-width", 1.3);

  var xa = g.append("g").attr("transform", "translate(0," + p.box[3] + ")")
    .call(d3.axisBottom(x).tickValues(p.xTicks).tickSize(4).tickPadding(3).tickFormat(String));
  var ya = g.append("g").attr("transform", "translate(" + p.box[0] + ",0)")
    .call(d3.axisLeft(y).tickValues(p.yTicks).tickSize(4).tickPadding(3).tickFormat(String));
  xa.select(".domain").remove();
  ya.select(".domain").remove();

  g.append("text")
    .attr("x", (p.box[0] + p.box[2]) / 2 + 2).attr("y", 68)
    .attr("text-anchor", "middle")
    .style("font-family", mono).style("font-size", "16.6px").style("fill", "#5e5e5e")
    .text(p.title);
});

// legend
var keyX = [661, 799];
legendLabels.forEach(function(lab, i) {
  svg.append("ellipse").attr("cx", keyX[i]).attr("cy", 35).attr("rx", 6.5).attr("ry", 5.6)
    .attr("fill", i === 0 ? HUMAN : ROBOT_KEY);
  svg.append("text").attr("x", keyX[i] + 12).attr("y", 41)
    .style("font-family", mono).style("font-size", "17.2px").style("fill", "#6a6a6a")
    .text(lab);
});

// diversity arrow
svg.append("line").attr("x1", 58).attr("x2", 612).attr("y1", 511).attr("y2", 511)
  .attr("stroke", "#5a5a5a").attr("stroke-width", 3);
svg.append("line").attr("x1", 975).attr("x2", 1504).attr("y1", 511).attr("y2", 511)
  .attr("stroke", "#5a5a5a").attr("stroke-width", 3);
svg.append("path").attr("d", "M1502,503 L1523,511 L1502,519 Z").attr("fill", "#5a5a5a");
svg.append("text").attr("x", 795).attr("y", 518).attr("text-anchor", "middle")
  .style("font-family", mono).style("font-size", "18.8px").style("fill", "#6a6a6a")
  .text(arrowLabel);

// caption, each line squeezed to the width it takes in the picture
var lineY = [558, 584, 610];
var lineW = [1543, 1543, 1206];
captionLines.forEach(function(parts, i) {
  var t = svg.append("text").attr("x", 0).attr("y", 0)
    .style("font-family", "'Liberation Serif', 'Times New Roman', serif")
    .style("font-size", "22px").style("fill", "#111");
  parts.forEach(function(s) {
    t.append("tspan").attr("font-weight", s.b ? "bold" : "normal").text(s.t);
  });
  var w = t.node().getComputedTextLength();
  t.attr("transform", "translate(14," + lineY[i] + ") scale(" + (lineW[i] / w) + ",1)");
});

// watermark
var wm = svg.append("text").attr("x", 0).attr("y", 0)
  .style("font-family", "'Liberation Sans', Arial, sans-serif").style("font-size", "25px")
  .attr("fill", "#f4f4f4").attr("stroke", "#b5b5b5").attr("stroke-width", 0.8)
  .text(watermark);
var ww = wm.node().getComputedTextLength();
wm.attr("transform", "translate(1321,610) scale(" + (240 / ww) + ",1)");

</script>
</body>
